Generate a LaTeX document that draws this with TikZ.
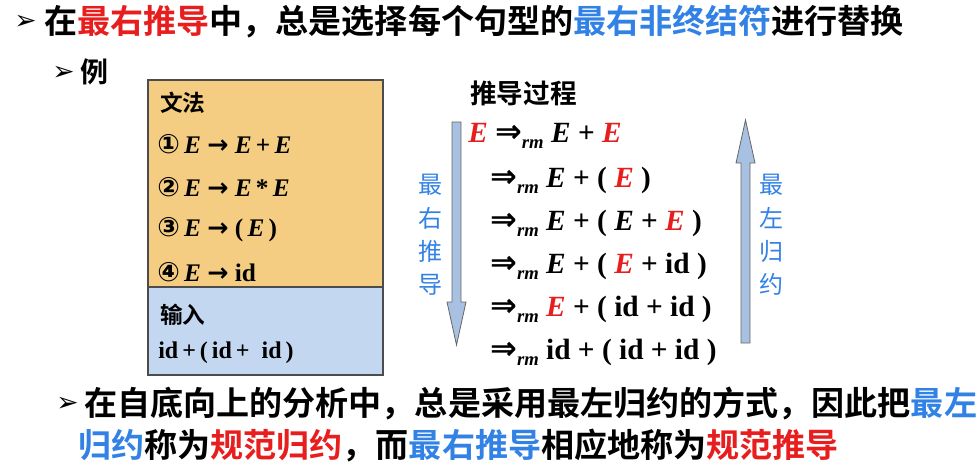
\documentclass[tikz,border=0pt]{standalone}
\usepackage{fontspec}
\setmainfont{Liberation Serif}
\newfontfamily\cjk{Noto Sans CJK SC}[BoldFont=* Bold]
\newfontfamily\sym{DejaVu Sans}
\definecolor{myred}{RGB}{232,30,30}
\definecolor{myblue}{RGB}{50,130,230}
\definecolor{ybox}{RGB}{244,205,130}
\definecolor{bbox}{RGB}{196,215,240}
\definecolor{arrfill}{RGB}{168,192,225}
\newcommand{\bE}{\textbf{\textit{E}}}
\newcommand{\rE}{\textcolor{myred}{\bE}}
\newcommand{\rarr}{{\sym\bfseries →}}
\newcommand{\rmd}{{\sym\bfseries\fontsize{24}{24}\selectfont ⇒}\raisebox{-0.45ex}{\fontsize{14}{14}\selectfont\textbf{\textit{rm}}}}
\newcommand{\cir}[1]{{\sym\fontsize{20}{20}\selectfont #1}}
\begin{document}
\begin{tikzpicture}[x=0.75pt,y=-0.75pt,
  cjkt/.style={anchor=west,inner sep=0,font=\cjk\bfseries\fontsize{24.8}{28}\selectfont},
  der/.style={anchor=west,inner sep=0,font=\bfseries\fontsize{22}{24}\selectfont},
  gram/.style={anchor=west,inner sep=0,font=\bfseries\fontsize{19}{20}\selectfont},
  vlab/.style={inner sep=0,align=center,text=myblue,font=\cjk\fontsize{18}{25}\selectfont},
  bul/.style={anchor=west,inner sep=0,font=\sym\bfseries\fontsize{20}{20}\selectfont},
  bigarrow/.style={draw=gray!80!black,fill=arrfill,line width=0.6pt}]
\useasboundingbox (0,0) rectangle (980,474);
% line 1
\node[bul] (b1) at (14,22) {➢};
\node[cjkt] (t1) at (44,22) {在\textcolor{myred}{最右推导}中，总是选择每个句型的\textcolor{myblue}{最右非终结符}进行替换};
\node[bul] (b2) at (52,73) {➢};
\node[cjkt,font=\cjk\bfseries\fontsize{21}{24}\selectfont] (ex) at (80,72) {例};
% box
\draw[draw=gray!60!black,fill=ybox,line width=0.8pt] (148,80) rectangle (383,287);
\draw[draw=gray!60!black,fill=bbox,line width=0.8pt] (148,287) rectangle (383,375);
\node[cjkt,font=\cjk\bfseries\fontsize{17}{20}\selectfont] (wf) at (160,103) {文法};
\node[gram] (g1) at (157,144) {\cir{①}\,\bE\ \rarr\ \bE\,+\,\bE};
\node[gram] (g2) at (157,187) {\cir{②}\,\bE\ \rarr\ \bE\,*\,\bE};
\node[gram] (g3) at (157,230) {\cir{③}\,\bE\ \rarr\ (\,\bE\,)};
\node[gram] (g4) at (157,272) {\cir{④}\,\bE\ \rarr\ id};
\node[cjkt,font=\cjk\bfseries\fontsize{17}{20}\selectfont] (sr) at (160,315) {输入};
\node[gram,font=\bfseries\fontsize{18}{20}\selectfont] (in) at (158,353) {id\,+\,(\,id\,+\ \ id\,)};
% derivation
\node[cjkt,font=\cjk\bfseries\fontsize{20}{24}\selectfont] (tt) at (470,93) {推导过程};
\node[der] (d1) at (468,136) {\rE\ \rmd\ \bE\ +\ \rE};
\node[der] (d2) at (490,180) {\rmd\ \bE\ +\ (\ \rE\ )};
\node[der] (d3) at (490,223) {\rmd\ \bE\ +\ (\ \bE\ +\ \rE\ )};
\node[der] (d4) at (490,266) {\rmd\ \bE\ +\ (\ \rE\ +\ id\ )};
\node[der] (d5) at (490,309) {\rmd\ \rE\ +\ (\ id\ +\ id\ )};
\node[der] (d6) at (490,352) {\rmd\ id\ +\ (\ id\ +\ id\ )};
% arrows
\draw[bigarrow] (452,122) -- (461,122) -- (461,302) -- (466,302) -- (456.5,345) -- (447,302) -- (452,302) -- cycle;
\draw[bigarrow] (741,343) -- (750,343) -- (750,163) -- (755,163) -- (745.5,120) -- (736,163) -- (741,163) -- cycle;
\node[vlab] (l1) at (430,235) {最\\右\\推\\导};
\node[vlab] (l2) at (771,235) {最\\左\\归\\约};
% bottom
\node[bul] (b3) at (56,404) {➢};
\node[cjkt] (t2) at (84,404) {在自底向上的分析中，总是采用最左归约的方式，因此把\textcolor{myblue}{最左}};
\node[cjkt] (t3) at (78,446) {\textcolor{myblue}{归约}称为\textcolor{myred}{规范归约}，而\textcolor{myblue}{最右推导}相应地称为\textcolor{myred}{规范推导}};
\end{tikzpicture}
\end{document}
